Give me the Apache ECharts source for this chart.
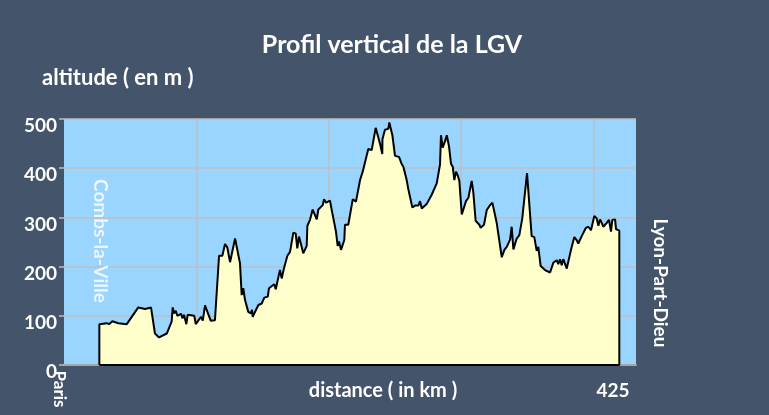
<!DOCTYPE html>
<html>
<head>
<meta charset="utf-8">
<title>Profil vertical de la LGV</title>
<script src="https://cdn.jsdelivr.net/npm/echarts@6/dist/echarts.min.js"></script>
<style>
  html, body { margin: 0; padding: 0; background: #44546a; }
  #chart { width: 769px; height: 415px; }
</style>
</head>
<body>
<div id="chart"></div>
<script>
const distanceKm = [
  26.7, 26.7, 32.3, 34.0, 36.5, 41.0, 47.4, 56.1, 61.2, 65.7,
  68.7, 71.8, 77.6, 81.3, 82.1, 83.1, 84.4, 85.6, 88.4, 89.4,
  90.6, 92.4, 93.4, 98.4, 99.5, 103.5, 104.8, 106.5, 110.8, 114.0,
  117.1, 119.6, 121.6, 123.3, 125.4, 129.2, 132.9, 134.2, 135.4, 136.7,
  139.2, 141.0, 142.0, 142.5, 146.8, 149.3, 151.3, 153.9, 154.8, 158.8,
  159.9, 163.1, 164.4, 166.2, 168.7, 170.7, 173.2, 175.0, 176.2, 177.5,
  179.0, 180.7, 183.3, 183.8, 185.8, 187.8, 189.0, 190.9, 192.1, 195.4,
  196.4, 197.9, 198.9, 200.9, 202.2, 203.4, 205.4, 206.7, 207.7, 209.2,
  211.7, 212.2, 214.7, 218.1, 219.3, 220.5, 223.6, 225.6, 229.8, 232.4,
  235.4, 236.6, 238.7, 240.4, 240.5, 242.4, 244.9, 245.7, 247.0, 248.0,
  250.0, 253.0, 255.1, 256.3, 258.8, 260.0, 261.3, 263.1, 265.1, 267.6,
  268.9, 270.2, 273.9, 277.7, 281.5, 284.0, 284.7, 286.0, 287.8, 289.1,
  290.8, 292.3, 293.6, 294.8, 296.1, 297.4, 298.6, 300.4, 303.6, 305.4,
  306.6, 307.9, 309.1, 310.9, 313.7, 314.7, 317.2, 319.3, 321.8, 323.5,
  326.8, 328.0, 330.6, 332.6, 334.4, 335.6, 336.9, 337.6, 338.1, 338.9,
  339.4, 341.9, 343.9, 345.2, 346.1, 349.7, 353.2, 355.2, 357.0, 358.2,
  360.0, 363.3, 367.1, 369.6, 370.8, 372.1, 373.3, 374.6, 375.9, 377.1,
  379.7, 382.9, 385.4, 387.2, 388.4, 391.0, 394.0, 396.0, 398.0, 400.5,
  402.3, 403.6, 404.8, 406.1, 407.3, 409.9, 411.6, 413.1, 414.1, 416.2,
  416.9, 419.4, 419.4, 26.7
];
const altitudeM = [
  0, 83, 85, 83, 89, 85, 83, 117, 114, 117,
  64, 56, 64, 88, 117, 105, 110, 100, 104, 95,
  102, 83, 102, 100, 83, 98, 90, 121, 90, 91,
  222, 222, 246, 239, 209, 257, 207, 142, 156, 132,
  108, 105, 112, 98, 122, 125, 137, 139, 156, 164,
  154, 193, 176, 197, 222, 230, 269, 267, 237, 261,
  261, 227, 242, 283, 295, 316, 318, 296, 316, 325,
  337, 330, 333, 334, 315, 312, 271, 242, 251, 234,
  254, 285, 285, 337, 339, 332, 376, 393, 439, 437,
  482, 478, 449, 429, 459, 478, 480, 493, 495, 467,
  425, 423, 408, 403, 376, 358, 354, 320, 324, 324,
  333, 318, 327, 346, 369, 408, 467, 442, 455, 467,
  444, 409, 403, 376, 393, 385, 374, 306, 333, 340,
  342, 374, 352, 293, 285, 279, 285, 315, 325, 330,
  289, 288, 219, 234, 240, 242, 255, 251, 281, 281,
  235, 257, 264, 266, 298, 390, 262, 260, 232, 240,
  201, 193, 188, 208, 205, 213, 205, 215, 203, 215,
  196, 234, 260, 254, 247, 262, 278, 281, 274, 303,
  298, 283, 296, 289, 281, 289, 295, 271, 295, 296,
  276, 273, 0, 0
];
const altitudeTicks = [0, 100, 200, 300, 400, 500];
const startName = 'Paris';
const firstStation = 'Combs-la-Ville';
const lastStation = 'Lyon-Part-Dieu';
const lengthLabel = '425';

const profile = distanceKm.map((d, i) => [d, altitudeM[i]]);

const bgColor = '#44546a';
const plotColor = '#99d5ff';
const gridColor = '#bfbfbf';
const font = 'Lato, "Open Sans", sans-serif';

const chart = echarts.init(document.getElementById('chart'));

chart.setOption({
  backgroundColor: bgColor,
  animation: false,
  textStyle: { fontFamily: font },
  title: {
    text: 'Profil vertical de la LGV',
    left: 387,
    top: 27,
    textAlign: 'center',
    textStyle: { color: '#fff', fontSize: 25, fontWeight: 'bold', fontFamily: font }
  },
  grid: {
    left: 64,
    right: 133,
    top: 119,
    bottom: 50,
    show: true,
    backgroundColor: plotColor,
    borderWidth: 0
  },
  xAxis: {
    type: 'value',
    min: 0,
    max: 432,
    interval: 100,
    axisLine: { show: true, lineStyle: { color: '#a6a6a6', width: 2 } },
    axisTick: { show: false },
    axisLabel: { show: false },
    splitLine: {
      show: true,
      showMinLine: false,
      showMaxLine: false,
      lineStyle: { color: gridColor, width: 1.5 }
    }
  },
  yAxis: {
    type: 'value',
    min: altitudeTicks[0],
    max: altitudeTicks[altitudeTicks.length - 1],
    interval: 100,
    axisLine: { show: false },
    axisTick: { show: true, length: 5, lineStyle: { color: gridColor, width: 1.5 } },
    axisLabel: {
      margin: 7,
      formatter: (v) => '{v|' + v + '}',
      rich: {
        v: {
          color: '#fff',
          fontSize: 19,
          fontWeight: 'bold',
          fontFamily: font,
          padding: [14, 0, 0, 0]
        }
      }
    },
    splitLine: { show: true, lineStyle: { color: gridColor, width: 1.5 } }
  },
  series: [{
    type: 'line',
    data: profile,
    showSymbol: false,
    smooth: false,
    lineStyle: { color: '#000', width: 2 },
    areaStyle: { color: '#ffffcc', opacity: 1 },
    z: 3
  }],
  graphic: [
    {
      type: 'text',
      left: 42,
      top: 67,
      style: { text: 'altitude ( en m )', fill: '#fff', font: 'bold 22px ' + font }
    },
    {
      type: 'text',
      x: 383,
      y: 391,
      style: { text: 'distance ( in km )', fill: '#fff', font: 'bold 20px ' + font, align: 'center', verticalAlign: 'middle' }
    },
    {
      type: 'text',
      x: 59,
      y: 389,
      rotation: -Math.PI / 2,
      style: { text: startName, fill: '#fff', font: 'bold 17px ' + font, align: 'center', verticalAlign: 'middle' }
    },
    {
      type: 'text',
      x: 100,
      y: 241,
      rotation: -Math.PI / 2,
      z: 10,
      style: { text: firstStation, fill: '#eef6ff', font: 'bold 19px ' + font, align: 'center', verticalAlign: 'middle' }
    },
    {
      type: 'text',
      x: 660,
      y: 283,
      rotation: -Math.PI / 2,
      style: { text: lastStation, fill: '#fff', font: 'bold 19px ' + font, align: 'center', verticalAlign: 'middle' }
    },
    {
      type: 'text',
      x: 613,
      y: 391,
      style: { text: lengthLabel, fill: '#fff', font: 'bold 19px ' + font, align: 'center', verticalAlign: 'middle' }
    }
  ]
});
</script>
</body>
</html>
